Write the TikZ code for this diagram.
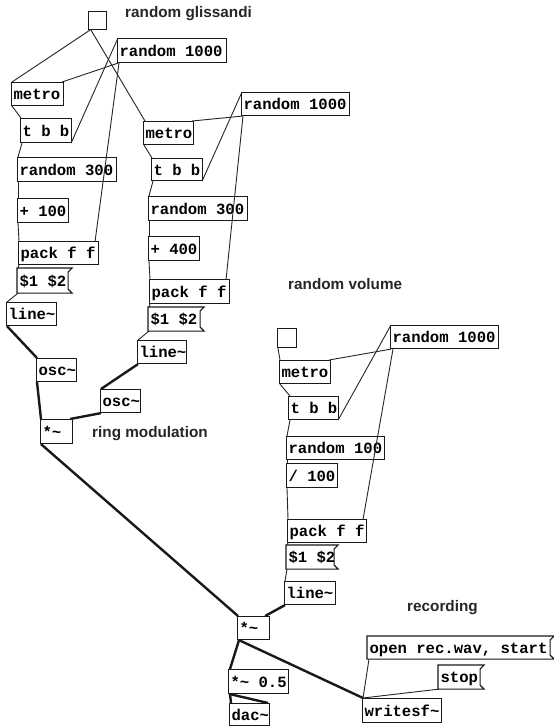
\documentclass[tikz,border=0pt]{standalone}
\usepackage{fontspec}
\newfontfamily\pdfont{Liberation Mono}
\newfontfamily\lblfont{Liberation Sans}
\newcommand\tld{\char"007E\relax}
\newcommand\pdspacing{\spaceskip=0.6em\relax}
\tikzset{
  obj/.style={draw=black!90, line width=1.1pt, inner xsep=2pt, inner ysep=0pt,
    anchor=north west, align=left, minimum height=23pt,
    text height=13pt, text depth=2pt,
    font=\pdfont\bfseries\fontsize{15.6}{16}\selectfont,
    execute at begin node={\pdspacing\hbox\bgroup},
    execute at end node={\egroup}},
  msgbox/.style={obj, draw=none},
  bng/.style={draw=black!90, line width=1.1pt, anchor=north west, inner sep=0pt,
    minimum width=18pt, minimum height=18pt},
  lbl/.style={anchor=base west, inner sep=0pt, text=black!85,
    font=\lblfont\bfseries\fontsize{15.3}{16}\selectfont},
  ctl/.style={draw=black!85, line width=0.9pt},
  sig/.style={draw=black!90, line width=2.4pt},
  flag/.style={draw=black!90, line width=1.1pt}
}
\begin{document}
\begin{tikzpicture}[x=1pt,y=-1pt]
\fill[white] (0,0) rectangle (554,726);
\useasboundingbox (0,0) rectangle (554,726);

% ---- random glissandi
\node[bng] (bangA) at (88,11) {};
\node[lbl] (lglis) at (125,17.5) {random glissandi};
\node[obj, text width=105pt, minimum height=24pt] (rndA) at (117,38) {random 1000};
\node[obj, text width=48pt] (metroA) at (11,82) {metro};
\node[obj, text width=47pt, minimum height=24pt] (tbbA) at (20,118) {t b b};
\node[obj, text width=95pt, minimum height=24pt] (r300A) at (17,157) {random 300};
\node[obj, text width=47pt, minimum height=24pt] (p100) at (17,198) {+ 100};
\node[obj, text width=76pt] (packA) at (18,241) {pack f f};
\node[msgbox, text width=46pt, minimum height=24pt] (msgA) at (17,268) {\$1 \$2};
\node[obj, text width=46pt] (lineA) at (6,302) {line\tld};
\node[obj, text width=36pt] (oscA) at (36,358) {osc\tld};
\node[obj, text width=36pt] (oscB) at (100,389) {osc\tld};
\node[obj, text width=28pt, minimum height=24pt] (mulA) at (40,419) {*\tld};
\node[lbl] (lring) at (92,437) {ring modulation};

\node[obj, text width=46pt] (metroB) at (143,121) {metro};
\node[obj, text width=104pt] (rndB) at (241,92) {random 1000};
\node[obj, text width=47pt, minimum height=22pt] (tbbB) at (151,158) {t b b};
\node[obj, text width=95pt, minimum height=24pt] (r300B) at (148,196) {random 300};
\node[obj, text width=47pt, minimum height=24pt] (p400) at (148,236) {+ 400};
\node[obj, text width=76pt, minimum height=24pt] (packB) at (149,279) {pack f f};
\node[msgbox, text width=47pt] (msgB) at (148,307) {\$1 \$2};
\node[obj, text width=45pt] (lineB) at (137,340) {line\tld};

% ---- random volume
\node[lbl] (lvol) at (288,289) {random volume};
\node[bng, minimum width=19pt, minimum height=19pt] (bangC) at (277,328) {};
\node[obj, text width=104pt] (rndC) at (390,325) {random 1000};
\node[obj, text width=47pt] (metroC) at (279,360) {metro};
\node[obj, text width=46pt] (tbbC) at (288,396) {t b b};
\node[obj, text width=94pt] (r100) at (286,436) {random 100};
\node[obj, text width=47pt, minimum height=24pt] (d100) at (286,463) {/ 100};
\node[obj, text width=75pt] (packC) at (287,519) {pack f f};
\node[msgbox, text width=43pt] (msgC) at (286,545) {\$1 \$2};
\node[obj, text width=47pt] (lineC) at (284,581) {line\tld};

% ---- output / recording
\node[lbl] (lrec) at (407,611) {recording};
\node[obj, text width=28pt] (mulM) at (237,616) {*\tld};
\node[obj, text width=56pt, minimum height=24pt] (mul05) at (228,669) {*\tld{} 0.5};
\node[obj, text width=36pt, minimum height=22pt] (dac) at (229,703) {dac\tld};
\node[msgbox, text width=178pt, minimum height=22pt] (mopen) at (367,636) {open rec.wav, start};
\node[msgbox, text width=37pt] (mstop) at (438,665) {stop};
\node[obj, text width=75pt, minimum height=24pt] (wsf) at (362,698) {writesf\tld};

% message box outlines
\foreach \m in {msgA,msgB,msgC,mopen,mstop}
  \draw[flag] (\m.north west) -- ([xshift=4pt]\m.north east) -- ([yshift=-4pt]\m.north east)
     -- ([yshift=4pt]\m.south east) -- ([xshift=4pt]\m.south east) -- (\m.south west) -- cycle;

% ---- control connections, group A
\draw[ctl] ([xshift=2pt]bangA.south west) -- ([xshift=1pt]metroA.north west);
\draw[ctl] ([xshift=3pt]bangA.south west) -- ([xshift=2pt]metroB.north west);
\draw[ctl] ([xshift=1pt]rndA.south west) -- ([xshift=-2pt]metroA.north east);
\draw[ctl] ([xshift=-1pt]tbbA.south east) -- ([xshift=1pt]rndA.north west);
\draw[ctl] ([xshift=2pt]rndA.south west) -- ([xshift=-4pt]packA.north east);
\draw[ctl] ([xshift=1pt]metroA.south west) -- ([xshift=1pt]tbbA.north west);
\draw[ctl] ([xshift=2pt]tbbA.south west) -- ([xshift=1pt]r300A.north west);
\draw[ctl] ([xshift=1pt]r300A.south west) -- ([xshift=1pt]p100.north west);
\draw[ctl] ([xshift=1pt]p100.south west) -- ([xshift=1pt]packA.north west);
\draw[ctl] ([xshift=1pt]packA.south west) -- ([xshift=1pt]msgA.north west);
\draw[ctl] ([xshift=1pt]msgA.south west) -- ([xshift=1pt]lineA.north west);

% group B
\draw[ctl] ([xshift=1pt]rndB.south west) -- ([xshift=-2pt]metroB.north east);
\draw[ctl] ([xshift=-1pt]tbbB.south east) -- ([xshift=1pt]rndB.north west);
\draw[ctl] ([xshift=2pt]rndB.south west) -- ([xshift=-4pt]packB.north east);
\draw[ctl] ([xshift=1pt]metroB.south west) -- ([xshift=1pt]tbbB.north west);
\draw[ctl] ([xshift=2pt]tbbB.south west) -- ([xshift=1pt]r300B.north west);
\draw[ctl] ([xshift=1pt]r300B.south west) -- ([xshift=1pt]p400.north west);
\draw[ctl] ([xshift=1pt]p400.south west) -- ([xshift=1pt]packB.north west);
\draw[ctl] ([xshift=1pt]packB.south west) -- ([xshift=1pt]msgB.north west);
\draw[ctl] ([xshift=1pt]msgB.south west) -- ([xshift=1pt]lineB.north west);

% group C
\draw[ctl] ([xshift=1pt]bangC.south west) -- ([xshift=1pt]metroC.north west);
\draw[ctl] ([xshift=1pt]rndC.south west) -- ([xshift=-2pt]metroC.north east);
\draw[ctl] ([xshift=-1pt]tbbC.south east) -- ([xshift=1pt]rndC.north west);
\draw[ctl] ([xshift=3pt]rndC.south west) -- ([xshift=-4pt]packC.north east);
\draw[ctl] ([xshift=1pt]metroC.south west) -- ([xshift=2pt]tbbC.north west);
\draw[ctl] ([xshift=2pt]tbbC.south west) -- ([xshift=1pt]r100.north west);
\draw[ctl] ([xshift=1pt]r100.south west) -- ([xshift=1pt]d100.north west);
\draw[ctl] ([xshift=1pt]d100.south west) -- ([xshift=1pt]packC.north west);
\draw[ctl] ([xshift=1pt]packC.south west) -- ([xshift=1pt]msgC.north west);
\draw[ctl] ([xshift=1pt]msgC.south west) -- ([xshift=1pt]lineC.north west);

% recording control
\draw[ctl] ([xshift=2pt]mopen.south west) -- ([xshift=1pt]wsf.north west);
\draw[ctl] ([xshift=1pt]mstop.south west) -- ([xshift=1pt]wsf.north west);

% ---- signal connections
\draw[sig] ([xshift=1pt]lineA.south west) -- ([xshift=1pt]oscA.north west);
\draw[sig] ([xshift=1pt]oscA.south west) -- ([xshift=1pt]mulA.north west);
\draw[sig] ([xshift=1pt]lineB.south west) -- ([xshift=1pt]oscB.north west);
\draw[sig] ([xshift=1pt]oscB.south west) -- ([xshift=-3pt]mulA.north east);
\draw[sig] ([xshift=1pt]mulA.south west) -- ([xshift=1pt]mulM.north west);
\draw[sig] ([xshift=1pt]lineC.south west) -- ([xshift=-5pt]mulM.north east);
\draw[sig] ([xshift=2pt]mulM.south west) -- ([xshift=2pt]mul05.north west);
\draw[sig] ([xshift=2pt]mulM.south west) -- ([xshift=1pt]wsf.north west);
\draw[sig] ([xshift=2pt]mul05.south west) -- ([xshift=2pt]dac.north west);
\draw[sig] ([xshift=2pt]mul05.south west) -- ([xshift=-2pt]dac.north east);
\end{tikzpicture}
\end{document}
